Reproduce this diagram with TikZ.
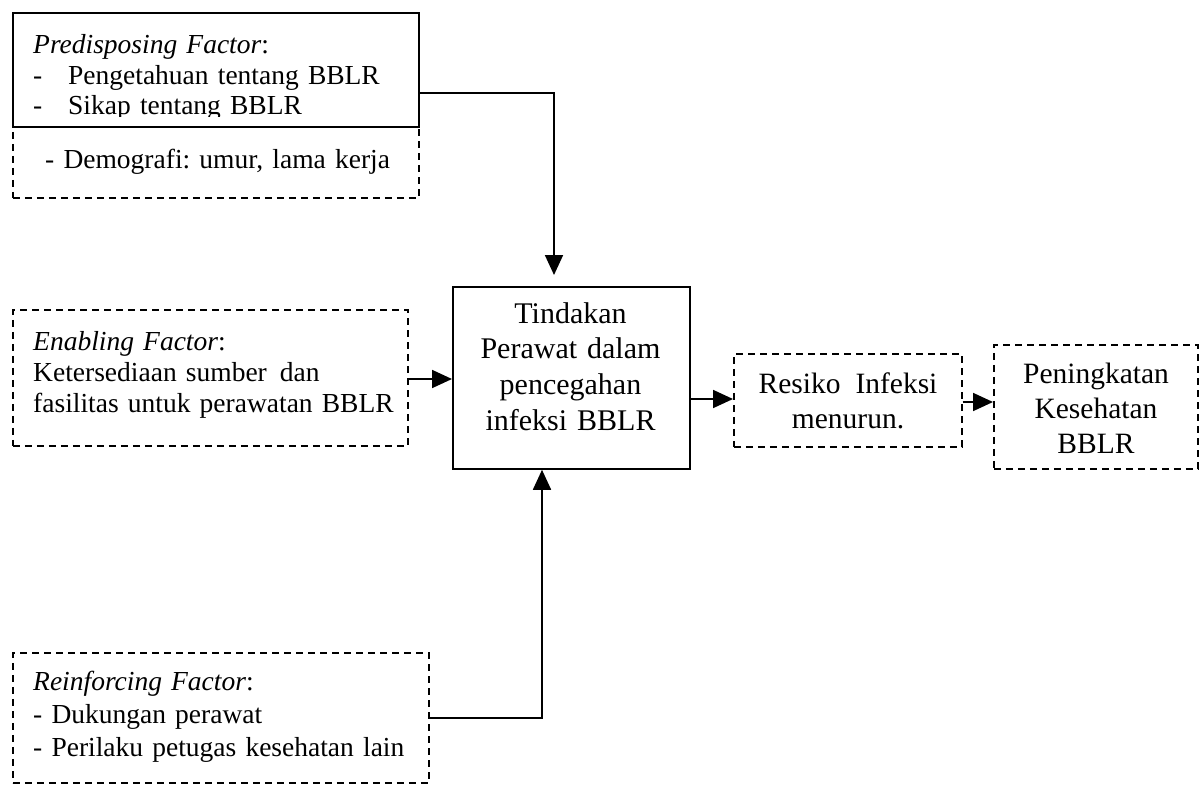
\documentclass[tikz,border=0pt]{standalone}
\usepackage{fontspec}
\setmainfont{Liberation Serif}
\usetikzlibrary{arrows.meta,calc}
\frenchspacing
\begin{document}
\begin{tikzpicture}[x=1pt,y=-1pt,
  solidbox/.style={draw, line width=1.8pt, inner sep=0pt, anchor=north west},
  dashbox/.style={draw, line width=1.6pt, dash pattern=on 7pt off 5pt, inner sep=0pt, anchor=north west},
  lefttxt/.style={inner sep=0pt, anchor=base west, align=left, text width=#1},
  ctxt/.style={inner sep=0pt, anchor=base, align=center, text width=#1},
  arrowconn/.style={line width=1.8pt, -{Triangle[length=20pt,width=18pt]}},
]
\useasboundingbox (0,0) rectangle (1201,784);

% boxes
\node[dashbox, minimum width=406pt, minimum height=71pt] (preD) at (12,126) {};
\node[solidbox, minimum width=406pt, minimum height=114pt] (pre) at (12,12) {};
\node[dashbox, minimum width=395pt, minimum height=136pt] (en) at (12,309) {};
\node[solidbox, minimum width=237pt, minimum height=182pt] (cen) at (452,286) {};
\node[dashbox, minimum width=228pt, minimum height=93pt] (res) at (733,353) {};
\node[dashbox, minimum width=204pt, minimum height=124pt] (pen) at (993,344) {};
\node[dashbox, minimum width=416pt, minimum height=130pt] (rein) at (12,652) {};

% texts
\begin{scope}
\clip (13,13) rectangle (417,116);
\node[lefttxt=380pt, font=\fontsize{27.5}{30}\selectfont] (preT) at (33,54)
  {\textit{Predisposing Factor}:\\
   \makebox[35pt][l]{-}Pengetahuan tentang BBLR\\
   \makebox[35pt][l]{-}Sikap tentang BBLR};
\end{scope}
\node[lefttxt=370pt, font=\fontsize{27.5}{30}\selectfont] (preDT) at (45,168)
  {- Demografi: umur, lama kerja};
\node[lefttxt=370pt, font=\fontsize{27.5}{31}\selectfont] (enT) at (33,350)
  {\textit{Enabling Factor}:\\
   Ketersediaan sumber\hspace{13pt}dan\\
   fasilitas untuk perawatan BBLR};
\node[lefttxt=390pt, font=\fontsize{27.5}{33}\selectfont] (reinT) at (33,690)
  {\textit{Reinforcing Factor}:\\
   - Dukungan perawat\\
   - Perilaku petugas kesehatan lain};
\node[ctxt=230pt, font=\fontsize{30}{35.7}\selectfont] (cenT) at (570.5,323)
  {Tindakan\\Perawat dalam\\pencegahan\\infeksi BBLR};
\node[ctxt=225pt, font=\fontsize{29.5}{35}\selectfont] (resT) at (848,393)
  {Resiko\hspace{15pt}Infeksi\\menurun.};
\node[ctxt=200pt, font=\fontsize{29.5}{35}\selectfont] (penT) at (1096,383)
  {Peningkatan\\Kesehatan\\BBLR};

% connector anchor coordinates
\coordinate (c1) at (554,93);
\coordinate (c2) at (0,379);
\coordinate (c3) at (0,399);
\coordinate (c4) at (0,402);
\coordinate (c5) at (542,718);

% connectors
\draw[arrowconn] (pre.east |- c1) -| ($(cen.north -| c1)+(0,-11)$);
\draw[arrowconn] (en.east |- c2) -- (cen.west |- c2);
\draw[arrowconn] (cen.east |- c3) -- (res.west |- c3);
\draw[arrowconn] (res.east |- c4) -- (pen.west |- c4);
\draw[arrowconn] (rein.east |- c5) -| (cen.south -| c5);
\end{tikzpicture}
\end{document}
